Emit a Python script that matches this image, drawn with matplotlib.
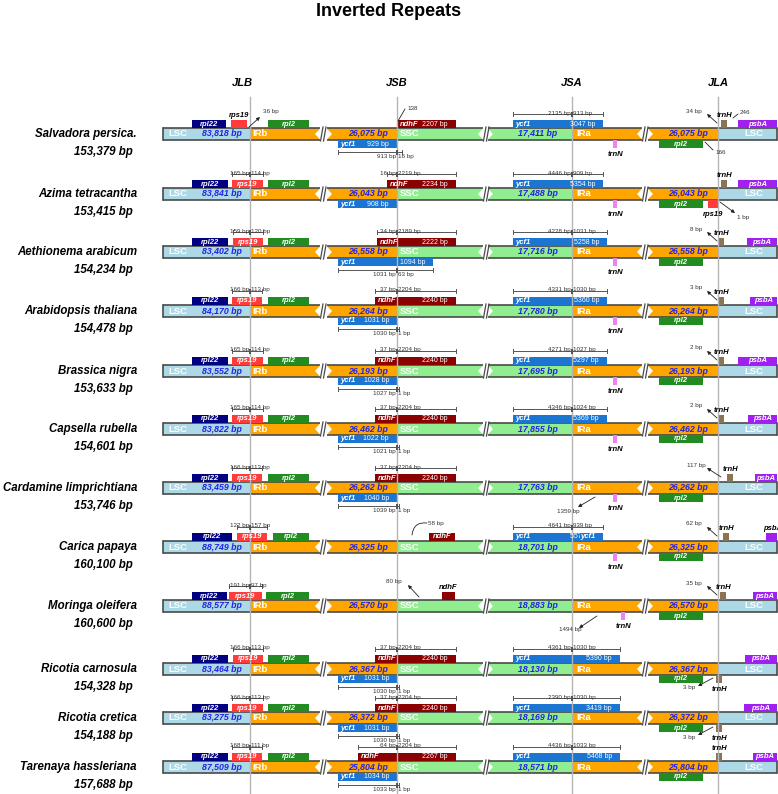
import matplotlib.pyplot as plt
from matplotlib.patches import Rectangle, Polygon

plt.rcParams['font.family'] = ['Liberation Sans', 'DejaVu Sans']

# ---------------- data ----------------
species = ["Salvadora persica.", "Azima tetracantha", "Aethionema arabicum",
           "Arabidopsis thaliana", "Brassica nigra", "Capsella rubella",
           "Cardamine limprichtiana", "Carica papaya", "Moringa oleifera",
           "Ricotia carnosula", "Ricotia cretica", "Tarenaya hassleriana"]
genome_bp = [153379, 153415, 154234, 154478, 153633, 154601, 153746, 160100, 160600, 154328, 154188, 157688]
lsc_bp = [83818, 83841, 83402, 84170, 83552, 83822, 83459, 88749, 88577, 83464, 83275, 87509]
ir_bp = [26075, 26043, 26558, 26264, 26193, 26462, 26262, 26325, 26570, 26367, 26372, 25804]
ssc_bp = [17411, 17488, 17716, 17780, 17695, 17855, 17763, 18701, 18883, 18130, 18169, 18571]

# rps19 across JLB (bp in LSC / in IRb)
rps19_lsc = [None, 165, 159, 166, 165, 165, 166, 122, 191, 166, 166, 168]
rps19_ir = [None, 114, 120, 113, 114, 114, 113, 157, 97, 113, 113, 111]
# ndhF across JSB
ndhf_bp = [2207, 2234, 2222, 2240, 2240, 2240, 2240, None, None, 2240, 2240, 2267]
ndhf_ir = [None, 16, 34, 37, 37, 37, 37, None, None, 37, 37, 64]
ndhf_ssc = [None, 2219, 2189, 2204, 2204, 2204, 2204, None, None, 2204, 2204, 2204]
# ycf1 fragment in IRb (at JSB)
ycf1b_bp = [929, 908, 1094, 1031, 1028, 1022, 1040, None, None, 1031, 1031, 1034]
ycf1b_ir = [913, None, 1031, 1030, 1027, 1021, 1039, None, None, 1030, 1030, 1033]
ycf1b_ssc = [16, None, 63, 1, 1, 1, 1, None, None, 1, 1, 1]
# ycf1 across JSA
ycf1a_bp = [3047, 5354, 5258, 5360, 5297, 5369, None, 5579, None, 5390, 3419, 5468]
ycf1a_ssc = [2135, 4446, 4228, 4331, 4271, 4346, None, 4641, None, 4361, 2390, 4436]
ycf1a_ir = [913, 909, 1031, 1030, 1027, 1024, None, 939, None, 1030, 1030, 1033]
# trnH distance from JLA
trnh_gap = [34, None, 8, 3, 2, 2, 117, 62, 35, 3, 3, None]
has_trnN = [True] * 9 + [False] * 3
trnh_below = [False] * 9 + [True, True, False]
# other distance notes (row, text)
extra_notes = [(0, '36 bp'), (0, '138'), (0, '246'), (0, '166'), (1, '1 bp'),
               (6, '1359 bp'), (7, '58 bp'), (8, '80 bp'), (8, '1494 bp')]

# ---------------- layout (pixels) ----------------
W, H = 778, 794
X0, X1 = 163, 777
JLB, JSB, JSA, JLA = 250, 397, 572, 718
BREAKS = [(320, 327), (483, 488), (642, 648)]
ROW_Y = [134, 194, 252, 311, 371, 429, 488, 547, 606, 669, 718, 767]
BAR_H, BOX_H = 12, 8
LEN_X = [222, 368, 538, 688]
RPL22_X = [(192, 226)] + [(192, 228)] * 6 + [(192, 232), (192, 227)] + [(192, 228)] * 3
RPS19_X = [(231, 247), (232, 263), (233, 263), (232, 262), (232, 263), (232, 263),
           (232, 262), (237, 267), (229, 262), (233, 263), (232, 263), (232, 262)]
RPL2T_X = [(268, 309)] * 7 + [(273, 309), (266, 309)] + [(268, 309)] * 3
NDHF_X = [(397, 456), (387, 456), (377, 456), (375, 456), (375, 456), (375, 456),
          (375, 456), (429, 455), (442, 455), (375, 456), (375, 456), (358, 456)]
YCF1B_X1 = [397, 397, 433, 397, 397, 397, 397, None, None, 397, 397, 397]
YCF1B_BRK = [402, None, 433, 399, 399, 399, 399, None, None, 399, 399, 399]
YCF1A_X1 = [603, 603, 607, 607, 607, 607, None, 603, None, 620, 620, 620]
TRNN_X = [613] * 8 + [621, None, None, None]
TRNH_X = [721, 721, 718, 718, 718, 718, 727, 723, 720, 716, 716, 716]
PSBA_X0 = [738, 738, 747, 750, 738, 748, 755, 766, 753, 745, 744, 753]
NOTE_POS = [  # tail, head, text xy (dy relative to row), ha, arrow head, rad
    ((249, -7), (260, -17), (263, -22), 'left', True, 0),
    ((398, -13), (405, -25), (407, -26), 'left', False, 0),
    ((733, -16), (738, -20), (740, -21), 'left', False, 0),
    ((705, 8), (713, 16), (715, 19), 'left', False, 0),
    ((720, 8), (735, 19), (737, 23), 'left', True, 0),
    ((595, 9), (578, 19), (568, 23), 'center', True, 0),
    ((412, -12), (427, -24), (428, -24), 'left', False, -0.5),
    ((419, -9), (408, -21), (402, -24), 'right', True, 0),
    ((597, 10), (579, 22), (570, 23), 'center', True, 0),
]

LSC_C, IR_C, SSC_C = '#add8e6', '#ffa500', '#90ee90'
C_RPL22, C_RPS19, C_RPL2 = '#000080', '#ff3b3b', '#228b22'
C_NDHF, C_YCF1, C_TRNH, C_PSBA, C_TRNN = '#8b0000', '#1c75d1', '#8b7355', '#a020f0', '#ee82ee'
EDGE, GREY_T, BLUE_T = '#4a4a4a', '#333333', '#2323e6'

fig = plt.figure(figsize=(W / 100, H / 100), dpi=100)
ax = fig.add_axes([0, 0, 1, 1])
ax.set_xlim(0, W)
ax.set_ylim(H, 0)
ax.axis('off')


def txt(x, y, s, size, color='black', ha='center', va='center', weight='bold', style='italic', **kw):
    ax.text(x, y, s, fontsize=size, color=color, ha=ha, va=va, fontweight=weight,
            fontstyle=style, zorder=6, **kw)


def gene(x0, x1, yc, side, color, name=None, size=None, name_in=True):
    y0 = yc - BAR_H / 2 - BOX_H if side == 'top' else yc + BAR_H / 2
    ax.add_patch(Rectangle((x0, y0), x1 - x0, BOX_H, fc=color, ec='none', zorder=3))
    ym = y0 + BOX_H / 2
    if name and name_in:
        if size:
            txt(x0 + 2.5, ym, name, 5.5, 'white', ha='left')
            txt(x1 - 8, ym, size, 5, 'white', ha='right', weight='normal', style='normal')
        else:
            txt((x0 + x1) / 2, ym, name, 5.5, 'white')
    elif name:
        ly = y0 - 4.5 if side == 'top' else y0 + BOX_H + 6.5
        txt((x0 + x1) / 2, ly, name, 5.5)


def bracket(x0, xj, x1, y, left, right, side):
    ax.plot([x0, x1], [y, y], color='#555555', lw=0.7, zorder=4)
    for x in (x0, x1):
        ax.plot([x, x], [y - 2, y + 2], color='#555555', lw=0.7, zorder=4)
    ax.add_patch(Rectangle((xj - 1, y - 2.5), 2, 5, fc='#555555', ec='none', zorder=5))
    if side == 'top':
        ty, va = y + 0.5, 'baseline'
    else:
        ty, va = y + 2, 'top'
    txt(xj - 1, ty, f'{left} bp', 4.5, GREY_T, ha='right', va=va, weight='normal', style='normal')
    txt(xj + 1.5, ty, f'{right} bp', 4.5, GREY_T, ha='left', va=va, weight='normal', style='normal')


def arrow(tail, head, with_head=True, rad=0):
    ax.annotate('', xy=head, xytext=tail, zorder=6,
                arrowprops=dict(arrowstyle='-|>' if with_head else '-', color='#222222', lw=0.6,
                                mutation_scale=5, shrinkA=0, shrinkB=0,
                                connectionstyle=f'arc3,rad={rad}'))


def track(yc):
    top, bot = yc - BAR_H / 2, yc + BAR_H / 2
    b = BREAKS
    pieces = [(X0, JLB, LSC_C), (JLB, b[0][0], IR_C), (b[0][1], JSB, IR_C),
              (JSB, b[1][0], SSC_C), (b[1][1], JSA, SSC_C),
              (JSA, b[2][0], IR_C), (b[2][1], JLA, IR_C), (JLA, X1, LSC_C)]
    for a, c, col in pieces:
        ax.add_patch(Rectangle((a, top), c - a, BAR_H, fc=col, ec='none', zorder=2))
    edges = [X0] + [v for br in b for v in br] + [X1]
    for a, c in zip(edges[::2], edges[1::2]):
        ax.plot([a, c], [top, top], color=EDGE, lw=1.2, zorder=3, solid_capstyle='butt')
        ax.plot([a, c], [bot, bot], color=EDGE, lw=1.2, zorder=3, solid_capstyle='butt')
    for x in (X0, X1):
        ax.plot([x, x], [top, bot], color=EDGE, lw=1.2, zorder=3)
    for a, c in b:
        ax.add_patch(Polygon([(a, top + 0.6), (a, bot - 0.6), (a - 5, yc)], fc='white', ec='none', zorder=3))
        ax.add_patch(Polygon([(c, top + 0.6), (c, bot - 0.6), (c + 5, yc)], fc='white', ec='none', zorder=3))
        for dx in (0.5, 3.5):
            ax.plot([a + dx, a + dx + 2.5], [bot + 1, top - 1], color=EDGE, lw=0.9, zorder=3)
    txt(X0 + 5, yc, 'LSC', 6.8, 'white', ha='left', style='normal')
    txt(JLB + 2, yc, 'IRb', 6.8, 'white', ha='left', style='normal')
    txt(JSB + 3, yc, 'SSC', 6.8, 'white', ha='left', style='normal')
    txt(JSA + 4, yc, 'IRa', 6.8, 'white', ha='left', style='normal')
    txt(754, yc, 'LSC', 6.8, 'white', style='normal')


txt(W / 2, 12, 'Inverted Repeats', 13, style='normal')
for x, lab in zip([JLB, JSB, JSA, JLA], ['JLB', 'JSB', 'JSA', 'JLA']):
    txt(x - 8 if lab == 'JLB' else x, 83, lab, 8)
    ax.plot([x, x], [97, H], color='#b5b5b5', lw=1, zorder=4)

for i, yc in enumerate(ROW_Y):
    top, bot = yc - BAR_H / 2, yc + BAR_H / 2
    track(yc)
    txt(137, yc, species[i], 8.3, ha='right')
    txt(133, yc + 18, f'{genome_bp[i]:,} bp', 8.3, ha='right')
    for cx, v in zip(LEN_X, [lsc_bp[i], ir_bp[i], ssc_bp[i], ir_bp[i]]):
        txt(cx, yc, f'{v:,} bp', 6.3, BLUE_T)

    # JLB region
    gene(*RPL22_X[i], yc, 'top', C_RPL22, 'rpl22')
    x0, x1 = RPS19_X[i]
    if rps19_lsc[i] is None:
        gene(x0, x1, yc, 'top', C_RPS19, 'rps19', name_in=False)
    else:
        gene(x0, x1, yc, 'top', C_RPS19, 'rps19')
        bracket(x0, JLB, x1, top - BOX_H - 6, rps19_lsc[i], rps19_ir[i], 'top')
    gene(*RPL2T_X[i], yc, 'top', C_RPL2, 'rpl2')

    # JSB region
    x0, x1 = NDHF_X[i]
    if ndhf_bp[i] is not None:
        gene(x0, x1, yc, 'top', C_NDHF, 'ndhF', f'{ndhf_bp[i]} bp')
        if ndhf_ir[i] is not None:
            bracket(x0, JSB, x1, top - BOX_H - 6, ndhf_ir[i], ndhf_ssc[i], 'top')
    else:
        gene(x0, x1, yc, 'top', C_NDHF, 'ndhF', name_in=(x1 - x0) > 20)
    if ycf1b_bp[i] is not None:
        gene(338, YCF1B_X1[i], yc, 'bottom', C_YCF1, 'ycf1', f'{ycf1b_bp[i]} bp')
        if ycf1b_ir[i] is not None:
            bracket(338, JSB, YCF1B_BRK[i], bot + BOX_H + 4, ycf1b_ir[i], ycf1b_ssc[i], 'bottom')

    # JSA region
    if ycf1a_bp[i] is not None:
        gene(513, YCF1A_X1[i], yc, 'top', C_YCF1, 'ycf1', f'{ycf1a_bp[i]} bp')
        bracket(513, JSA, YCF1A_X1[i], top - BOX_H - 6, ycf1a_ssc[i], ycf1a_ir[i], 'top')
        if i == 7:
            ax.text(580, top - BOX_H / 2, 'ycf1', fontsize=5.5, color='white', fontweight='bold',
                    fontstyle='italic', ha='left', va='center', zorder=6,
                    bbox=dict(fc=C_YCF1, ec='none', pad=0.3))
    if has_trnN[i]:
        gene(TRNN_X[i], TRNN_X[i] + 4, yc, 'bottom', C_TRNN, 'trnN', name_in=False)

    # JLA region
    gene(659, 703, yc, 'bottom', C_RPL2, 'rpl2')
    side = 'bottom' if trnh_below[i] else 'top'
    gene(TRNH_X[i], TRNH_X[i] + 6, yc, side, C_TRNH, 'trnH', name_in=False)
    if trnh_gap[i] is not None:
        if side == 'top':
            dx = 4 if trnh_gap[i] > 99 else 0
            arrow((JLA - 1 + dx, yc - 11), (JLA - 11, yc - 20))
            txt(JLA - 16 + dx, yc - 23, f'{trnh_gap[i]} bp', 4.5, GREY_T, ha='right',
                weight='normal', style='normal')
        else:
            arrow((JLA - 5, yc + 9), (JLA - 20, yc + 17))
            txt(JLA - 23, yc + 19, f'{trnh_gap[i]} bp', 4.5, GREY_T, ha='right',
                weight='normal', style='normal')
    if i == 1:
        gene(708, 718, yc, 'bottom', C_RPS19, 'rps19', name_in=False)
    if PSBA_X0[i] > 760:
        gene(PSBA_X0[i], X1, yc, 'top', C_PSBA)
        txt(PSBA_X0[i] - 3, top - BOX_H - 4.5, 'psbA', 5.5, ha='left')
    else:
        gene(PSBA_X0[i], X1, yc, 'top', C_PSBA, 'psbA')

# remaining distance notes
for (row, label), (tail, head, tpos, ha, hd, rad) in zip(extra_notes, NOTE_POS):
    yc = ROW_Y[row]
    arrow((tail[0], yc + tail[1]), (head[0], yc + head[1]), hd, rad)
    txt(tpos[0], yc + tpos[1], label, 4.5, GREY_T, ha=ha, weight='normal', style='normal')

fig.savefig('out.png', dpi=100)
